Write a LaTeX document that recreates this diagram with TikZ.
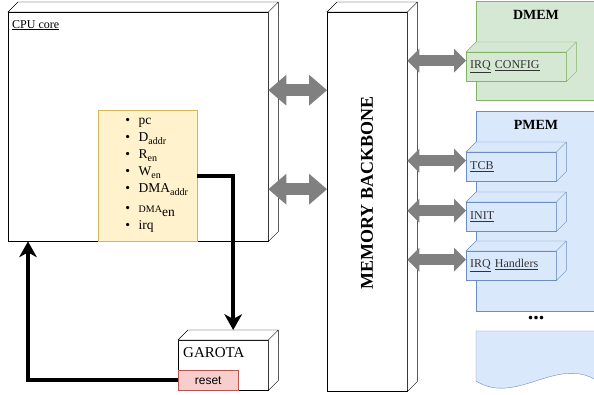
\documentclass[tikz,border=0pt]{standalone}
\usepackage{fontspec}
\setmainfont{Liberation Serif}
\setsansfont{Liberation Sans}
\usepackage{tikz}
\usetikzlibrary{arrows.meta}
\usepackage{color}

\definecolor{dmemfill}{HTML}{D5E8D4}
\definecolor{dmemline}{HTML}{82B366}
\definecolor{pmemfill}{HTML}{DAE8FC}
\definecolor{pmemline}{HTML}{6C8EBF}
\definecolor{sigfill}{HTML}{FFF2CC}
\definecolor{sigline}{HTML}{D6B656}
\definecolor{rstfill}{HTML}{F8CECC}
\definecolor{rstline}{HTML}{B85450}
\definecolor{busgray}{HTML}{808080}

\newcommand{\boxfaces}[2]{%
	\filldraw[#2] (#1.north west) -- ++(10pt,10pt) -- ([shift={(10pt,10pt)}]#1.north east) -- ([shift={(10pt,10pt)}]#1.south east) -- (#1.south east) -- (#1.north east) -- cycle (#1.north east) -- ++(10pt,10pt);
}
\newcommand{\sig}[1]{\hspace*{18pt}\textbullet\hspace{8.5pt}#1}
\newcommand{\sigsub}[1]{\raisebox{-3pt}{\fontsize{10}{10}\selectfont #1}}

\tikzset{
	box3d/.style={draw, inner sep=0pt, anchor=north west},
	memcube/.style={box3d, fill=pmemfill, draw=pmemline, text width=#1, inner xsep=4pt, align=left, minimum height=29pt, text=black!80, font=\fontsize{12}{14}\selectfont},
	bigbus/.style={busgray, line width=12pt, {Triangle[length=18pt,width=31pt,line width=0pt]}-{Triangle[length=18pt,width=31pt,line width=0pt]}},
	bus/.style={busgray, line width=11pt, {Triangle[length=12pt,width=24pt,line width=0pt]}-{Triangle[length=12pt,width=24pt,line width=0pt]}},
	ctrl/.style={black, line width=4pt, -{Stealth[length=16pt,width=18pt,inset=5pt,line width=0pt]}},
	title/.style={font=\fontsize{14}{16}\selectfont\bfseries, inner sep=0pt}
}

\begin{document}
\begin{tikzpicture}[x=1pt,y=-1pt]
	\useasboundingbox (0,0) rectangle (594,395);
	\clip (0,0) rectangle (594,395);

	% CPU side
	\node[box3d, fill=white, minimum width=260pt, minimum height=229pt] (cpu) at (8,12) {};
	\boxfaces{cpu}{fill=white, draw=black}
	\node[anchor=north west, inner sep=0pt, font=\fontsize{12}{14}\selectfont] (cpulbl) at ([xshift=4pt,yshift=-8pt]cpu.north west) {\underline{CPU core}};
	\node[box3d, fill=sigfill, draw=sigline, minimum width=99pt, minimum height=131pt, align=left, font=\fontsize{13.5}{17}\selectfont] (sigs) at (98,110) {%
		\sig{pc}\\
		\sig{D\sigsub{addr}}\\
		\sig{R\sigsub{en}}\\
		\sig{W\sigsub{en}}\\
		\sig{DMA\sigsub{addr}}\\[3pt]
		\sig{{\fontsize{10}{10}\selectfont DMA}\raisebox{-4pt}{en}}\\
		\sig{irq}};

	\node[box3d, fill=white, minimum width=90pt, minimum height=50pt] (garota) at (178,340) {};
	\boxfaces{garota}{fill=white, draw=black}
	\node[anchor=north west, inner sep=0pt, font=\fontsize{15}{17}\selectfont] (garotalbl) at (183,347) {GAROTA};
	\node[box3d, fill=rstfill, draw=rstline, minimum width=60pt, minimum height=20pt, font=\sffamily\fontsize{12}{14}\selectfont] (reset) at (178,370) {reset};

	% backbone
	\node[box3d, fill=white, minimum width=80pt, minimum height=379pt] (bb) at (327,12) {};
	\boxfaces{bb}{fill=white, draw=black}
	\node[rotate=90, inner sep=0pt, font=\fontsize{18}{20}\selectfont\bfseries] (bblbl) at (367,193) {MEMORY BACKBONE};

	% memories
	\node[box3d, fill=dmemfill, draw=dmemline, minimum width=120pt, minimum height=99pt] (dmem) at (476,1) {};
	\node[title] (dmemlbl) at (536,15) {DMEM};
	\node[memcube=92pt, fill=dmemfill, draw=dmemline] (irqcfg) at (466,52) {\underline{IRQ} \underline{CONFIG}};
	\boxfaces{irqcfg}{fill=dmemfill, draw=dmemline}

	\node[box3d, fill=pmemfill, draw=pmemline, minimum width=120pt, minimum height=200pt] (pmem) at (476,111) {};
	\node[title] (pmemlbl) at (536,125) {PMEM};
	\node[memcube=82pt] (tcb) at (466,152) {\underline{TCB}};
	\boxfaces{tcb}{fill=pmemfill, draw=pmemline}
	\node[memcube=82pt] (init) at (466,202) {\underline{INIT}};
	\boxfaces{init}{fill=pmemfill, draw=pmemline}
	\node[memcube=82pt] (irqh) at (466,251) {\underline{IRQ} \underline{Handlers}};
	\boxfaces{irqh}{fill=pmemfill, draw=pmemline}

	\node[inner sep=0pt, font=\fontsize{22}{22}\selectfont\bfseries] (dots) at (536,318) {...};
	\filldraw[fill=pmemfill, draw=pmemline] (476,331) -- (596,331) -- (596,380) .. controls (556,356) and (516,406) .. (476,381) -- cycle;

	% buses
	\draw[bigbus, transform canvas={yshift=36.5pt}] (cpu.east) -- (bb.west |- cpu.east);
	\draw[bigbus, transform canvas={yshift=-62.5pt}] (cpu.east) -- (bb.west |- cpu.east);
	\draw[bus, transform canvas={yshift=6pt}] (bb.east |- irqcfg.west) -- (irqcfg.west);
	\draw[bus, transform canvas={yshift=6pt}] (bb.east |- tcb.west) -- (tcb.west);
	\draw[bus, transform canvas={yshift=6pt}] (bb.east |- init.west) -- (init.west);
	\draw[bus, transform canvas={yshift=6pt}] (bb.east |- irqh.west) -- (irqh.west);

	% control lines
	\draw[ctrl] (sigs.east) -| ([shift={(10pt,10pt)}]garota.north);
	\draw[ctrl] (reset.west) -| ([xshift=20pt]cpu.south west);
\end{tikzpicture}
\end{document}
